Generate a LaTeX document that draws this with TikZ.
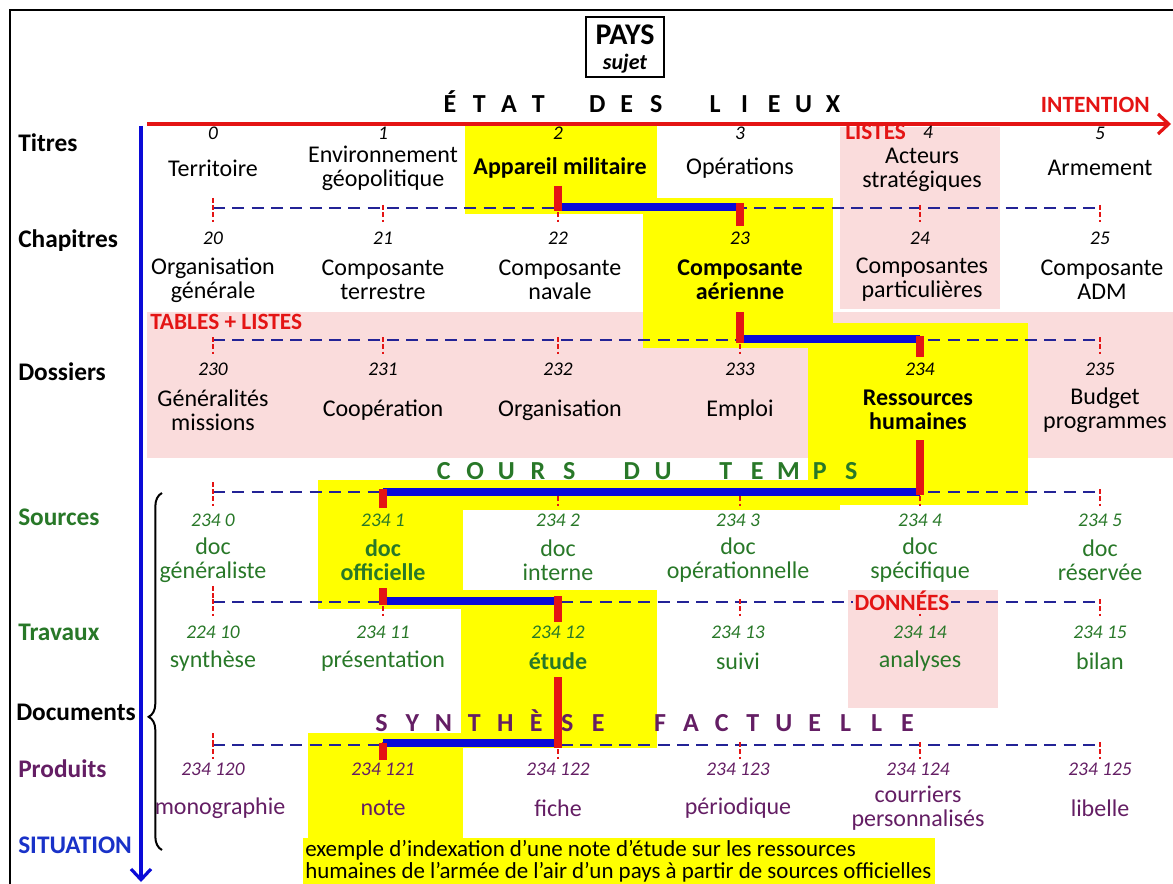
\documentclass[tikz,border=0pt]{standalone}
\usepackage{fontspec}
\setmainfont{Carlito}
\usetikzlibrary{arrows.meta,decorations.pathreplacing,calc}
\definecolor{hlyellow}{RGB}{255,255,0}
\definecolor{hlpink}{RGB}{250,220,220}
\definecolor{myred}{RGB}{228,20,20}
\definecolor{myblue}{RGB}{10,10,215}
\definecolor{dashblue}{RGB}{35,35,150}
\definecolor{mygreen}{RGB}{40,120,40}
\definecolor{mypurple}{RGB}{100,30,100}
\definecolor{sitblue}{RGB}{25,50,200}
\newlength\pitch
\newcommand\lb[1]{\makebox[\pitch][c]{#1}}
\newcommand\itemsize{\fontsize{18}{18}\selectfont}
\newcommand\numsize{\fontsize{14.5}{15}\selectfont\itshape}
\newcommand\rowsize{\fontsize{19}{20}\selectfont\bfseries}
\newcommand\bigsize{\fontsize{19.5}{20}\selectfont\bfseries}
\newcommand\tagsize{\fontsize{17.5}{18}\selectfont\bfseries}
\begin{document}
\begin{tikzpicture}[x=0.75pt,y=-0.75pt,
  rowlabel/.style={anchor=west,inner sep=0,font=\rowsize},
  num/.style={inner sep=0,font=\numsize},
  item/.style={inner sep=0,align=center,font=\itemsize},
  bitem/.style={inner sep=0,align=center,font=\itemsize\bfseries},
  tagtext/.style={inner sep=0,font=\tagsize,text=myred},
  bus/.style={dashblue,line width=1.8pt,dash pattern=on 9pt off 5.5pt},
  tick/.style={myred,line width=1.4pt,dash pattern=on 3.5pt off 2pt},
  hlbar/.style={myred,line width=6pt},
  hlpath/.style={myblue,line width=5.5pt},
  mainarrow/.style={line width=2.4pt,-{Straight Barb[length=8pt,width=15pt,line width=2.4pt]}}]
\useasboundingbox (0,0) rectangle (1173,884);
% ---------- backgrounds ----------
\fill[hlpink] (840,127) rectangle (1000,309);
\fill[hlpink] (147,312) rectangle (1173,458);
\fill[hlyellow] (465,126) rectangle (657,214);
\fill[hlyellow] (643,198) rectangle (833,348);
\fill[hlyellow] (808,323) rectangle (1028,505);
\fill[hlyellow] (318,480) rectangle (840,510);
\fill[hlyellow] (318,480) rectangle (463,609);
\fill[hlyellow] (461,590) rectangle (657,748);
\fill[hlpink] (848,590) rectangle (998,708);
\fill[hlyellow] (308,733) rectangle (463,842);
\fill[hlyellow] (303,838) rectangle (935,884);
% ---------- frame ----------
\draw[line width=2.2pt] (10,884) -- (10,10) -- (1173,10);
% ---------- header ----------
\node[draw,line width=1pt,minimum width=58.5pt,minimum height=45pt,inner sep=0] (pays) at (625,47) {};
\node[inner sep=0,font=\fontsize{22.5}{22.5}\selectfont\bfseries] (paysT) at (625,35) {PAYS};
\node[inner sep=0,font=\fontsize{16.5}{16.5}\selectfont\bfseries\itshape] (paysS) at (625,64) {sujet};
\node[inner sep=0,font=\bigsize] (etat) at (641.5,102) {\setlength\pitch{22.1pt}\lb{É}\lb{T}\lb{A}\lb{T}\lb{}\lb{D}\lb{E}\lb{S}\lb{}\lb{L}\lb{I}\lb{E}\lb{U}\lb{X}};
\node[tagtext,anchor=east] (intent) at (1150,105) {INTENTION};
% ---------- axes ----------
\coordinate (redS) at (147,124);
\coordinate (redE) at (1171,124);
\draw[mainarrow,myred] (redS) -- (redE);
\coordinate (blS) at (141,126);
\coordinate (blE) at (141,882);
\draw[mainarrow,myblue] (blS) -- (blE);
% ---------- row labels ----------
\node[rowlabel] (lTitres) at (18,143) {Titres};
\node[rowlabel] (lChap) at (18,241) {Chapitres};
\node[rowlabel] (lDoss) at (18,372) {Dossiers};
\node[rowlabel,text=mygreen] (lSrc) at (18,517) {Sources};
\node[rowlabel,text=mygreen] (lTrav) at (18,632) {Travaux};
\node[rowlabel] (lDocs) at (16,712) {Documents};
\node[rowlabel,text=mypurple] (lProd) at (18,769) {Produits};
\node[rowlabel,text=sitblue] (lSit) at (18,845) {SITUATION};
% ---------- bus coordinates ----------
\foreach \r/\yy in {1/208,2/340,3/492,4/602,5/745}{
  \foreach \c/\xx in {0/213,1/383,2/558,3/740,4/920,5/1100}{
    \coordinate (b\r c\c) at (\xx,\yy);
  }
}
% ---------- Titres ----------
\node[num] (n0) at (213,133) {0};
\node[num] (n1) at (383,133) {1};
\node[num] (n2) at (558,133) {2};
\node[num] (n3) at (740,133) {3};
\node[num] (n4) at (928,132) {4};
\node[num] (n5) at (1100,133) {5};
\node[tagtext,anchor=west] (listes) at (845,132) {LISTES};
\node[item] (t0) at (213,168) {Territoire};
\node[item] (t1) at (383,168) {Environnement\\géopolitique};
\node[bitem] (t2) at (560,168) {Appareil militaire};
\node[item] (t3) at (740,168) {Opérations};
\node[item] (t4) at (922,170) {Acteurs\\stratégiques};
\node[item] (t5) at (1100,168) {Armement};
% ---------- Chapitres ----------
\node[num] (n20) at (213,238) {20};
\node[num] (n21) at (383,238) {21};
\node[num] (n22) at (558,238) {22};
\node[num] (n23) at (740,238) {23};
\node[num] (n24) at (920,238) {24};
\node[num] (n25) at (1100,238) {25};
\node[item] (c20) at (213,280) {Organisation\\générale};
\node[item] (c21) at (383,280) {Composante\\terrestre};
\node[item] (c22) at (560,280) {Composante\\navale};
\node[bitem] (c23) at (740,280) {Composante\\aérienne};
\node[item] (c24) at (922,280) {Composantes\\particulières};
\node[item] (c25) at (1102,280) {Composante\\ADM};
\node[tagtext,anchor=west] (tables) at (150,322) {TABLES + LISTES};
% ---------- Dossiers ----------
\node[num] (n230) at (213,369) {230};
\node[num] (n231) at (383,369) {231};
\node[num] (n232) at (558,369) {232};
\node[num] (n233) at (740,369) {233};
\node[num] (n234) at (920,369) {234};
\node[num] (n235) at (1100,369) {235};
\node[item] (d230) at (213,410) {Généralités\\missions};
\node[item] (d231) at (383,410) {Coopération};
\node[item] (d232) at (560,410) {Organisation};
\node[item] (d233) at (740,410) {Emploi};
\node[bitem] (d234) at (918,410) {Ressources\\humaines};
\node[item] (d235) at (1105,410) {Budget\\programmes};
\node[inner sep=0,font=\bigsize,text=mygreen] (cours) at (647.5,471) {\setlength\pitch{23.5pt}\lb{C}\lb{O}\lb{U}\lb{R}\lb{S}\lb{}\lb{D}\lb{U}\lb{}\lb{T}\lb{E}\lb{M}\lb{P}\lb{S}};
% ---------- Sources ----------
\begin{scope}[every node/.append style={text=mygreen}]
\node[num] (s0n) at (213,520) {234 0};
\node[num] (s1n) at (383,520) {234 1};
\node[num] (s2n) at (558,520) {234 2};
\node[num] (s3n) at (738,520) {234 3};
\node[num] (s4n) at (920,520) {234 4};
\node[num] (s5n) at (1100,520) {234 5};
\node[item] (s0) at (213,560) {doc\\généraliste};
\node[bitem] (s1) at (383,560) {doc\\officielle};
\node[item] (s2) at (558,560) {doc\\interne};
\node[item] (s3) at (738,560) {doc\\opérationnelle};
\node[item] (s4) at (920,560) {doc\\spécifique};
\node[item] (s5) at (1100,560) {doc\\réservée};
% ---------- Travaux ----------
\node[num] (w0n) at (213,632) {224 10};
\node[num] (w1n) at (383,632) {234 11};
\node[num] (w2n) at (558,632) {234 12};
\node[num] (w3n) at (738,632) {234 13};
\node[num] (w4n) at (920,632) {234 14};
\node[num] (w5n) at (1100,632) {234 15};
\node[item] (w0) at (213,661) {synthèse};
\node[item] (w1) at (383,661) {présentation};
\node[bitem] (w2) at (558,661) {étude};
\node[item] (w3) at (738,661) {suivi};
\node[item] (w4) at (920,661) {analyses};
\node[item] (w5) at (1100,661) {bilan};
\end{scope}
\node[inner sep=0,font=\bigsize,text=mypurple] (synth) at (644.5,721) {\setlength\pitch{23.2pt}\lb{S}\lb{Y}\lb{N}\lb{T}\lb{H}\lb{È}\lb{S}\lb{E}\lb{}\lb{F}\lb{A}\lb{C}\lb{T}\lb{U}\lb{E}\lb{L}\lb{L}\lb{E}};
% ---------- Produits ----------
\begin{scope}[every node/.append style={text=mypurple}]
\node[num] (p0n) at (213,769) {234 120};
\node[num] (p1n) at (383,769) {234 121};
\node[num] (p2n) at (558,769) {234 122};
\node[num] (p3n) at (738,769) {234 123};
\node[num] (p4n) at (918,769) {234 124};
\node[num] (p5n) at (1100,769) {234 125};
\node[item] (p0) at (220,808) {monographie};
\node[item] (p1) at (383,808) {note};
\node[item] (p2) at (558,808) {fiche};
\node[item] (p3) at (738,808) {périodique};
\node[item] (p4) at (918,808) {courriers\\personnalisés};
\node[item] (p5) at (1100,808) {libelle};
\end{scope}
\node[inner sep=0,anchor=north west,align=left,font=\fontsize{17.2}{16.5}\selectfont] (caption) at (305,840) {exemple d’indexation d’une note d’étude sur les ressources\\humaines de l’armée de l’air d’un pays à partir de sources officielles};
% ---------- buses ----------
\foreach \r in {1,...,5}{
  \draw[bus] (b\r c0) -- (b\r c5);
  \foreach \c in {0,...,5}{
    \draw[tick] ($(b\r c\c)+(0,-3)$) -- ($(b\r c\c)+(0,14)$);
  }
}
\draw[tick] ($(b1c0)+(0,-10)$) -- (b1c0);
\draw[tick] ($(b3c0)+(0,-10)$) -- (b3c0);
\draw[tick] ($(b4c0)+(0,-16)$) -- (b4c0);
\draw[tick] ($(b5c0)+(0,-12)$) -- (b5c0);
\node[tagtext,fill=hlpink,inner xsep=1pt] (donnees) at (902,601) {DONNÉES};
% ---------- highlighted path ----------
\draw[hlpath] ($(b1c2)+(0,-1)$) -- ($(b1c3)+(0,-1)$);
\draw[hlpath] ($(b2c3)+(0,-1)$) -- ($(b2c4)+(0,-1)$);
\draw[hlpath] (b3c1) -- (b3c4);
\draw[hlpath] ($(b4c1)+(0,-1)$) -- ($(b4c2)+(0,-1)$);
\draw[hlpath] ($(b5c1)+(0,-2)$) -- ($(b5c2)+(0,-2)$);
\draw[hlbar] ($(b1c2)+(0,-22)$) -- ($(b1c2)+(0,3)$);
\draw[hlbar] ($(b1c3)+(0,-5)$) -- ($(b1c3)+(0,18)$);
\draw[hlbar] ($(b2c3)+(0,-28)$) -- ($(b2c3)+(0,3)$);
\draw[hlbar] ($(b2c4)+(0,-4)$) -- ($(b2c4)+(0,17)$);
\draw[hlbar] ($(b3c4)+(0,-52)$) -- ($(b3c4)+(0,3)$);
\draw[hlbar] ($(b3c1)+(0,-3)$) -- ($(b3c1)+(0,16)$);
\draw[hlbar] ($(b4c1)+(0,-14)$) -- ($(b4c1)+(0,3)$);
\draw[hlbar] ($(b4c2)+(0,-6)$) -- ($(b4c2)+(0,20)$);
\draw[hlbar] ($(b5c2)+(0,-68)$) -- ($(b5c2)+(0,3)$);
\draw[hlbar] ($(b5c1)+(0,-2)$) -- ($(b5c1)+(0,15)$);
% ---------- brace ----------
\coordinate (brB) at (162,850);
\coordinate (brT) at (162,493);
\draw[decorate,decoration={brace,amplitude=10pt,aspect=0.373},line width=1.5pt] (brB) -- (brT);
\end{tikzpicture}
\end{document}
